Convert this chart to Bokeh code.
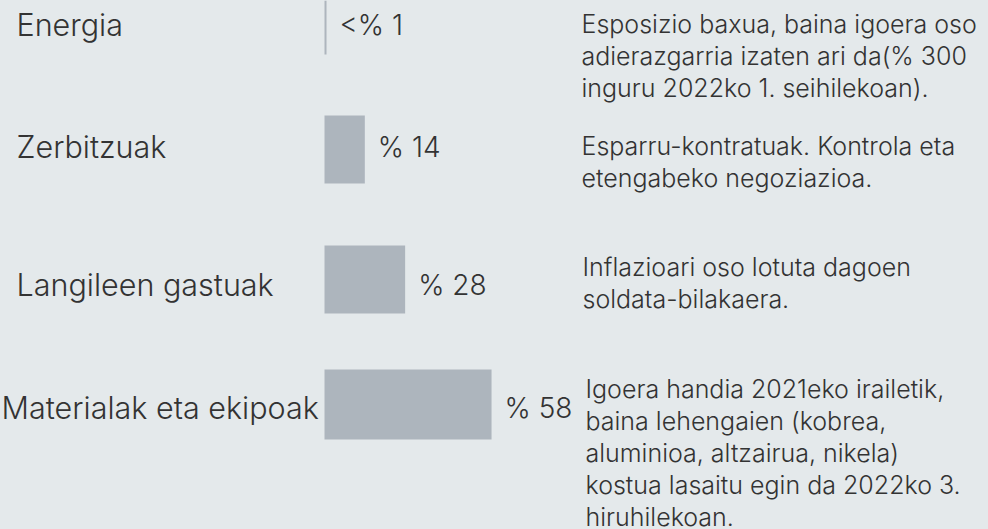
from bokeh.plotting import figure
from bokeh.models import Range1d, ColumnDataSource
from bokeh.embed import file_html
from bokeh.resources import INLINE
from bokeh.core.properties import value

# ---------------- data ----------------
categories = ["Energia", "Zerbitzuak", "Langileen gastuak", "Materialak eta ekipoak"]
shares = [0.7, 14, 28, 58]          # share of cost, percent ("<1" for energy)
share_labels = ["<% 1", "% 14", "% 28", "% 58"]
notes = [
    ["Esposizio baxua, baina igoera oso",
     "adierazgarria izaten ari da(% 300",
     "inguru 2022ko 1. seihilekoan)."],
    ["Esparru-kontratuak. Kontrola eta",
     "etengabeko negoziazioa."],
    ["Inflazioari oso lotuta dagoen",
     "soldata-bilakaera."],
    ["Igoera handia 2021eko irailetik,",
     "baina lehengaien (kobrea,",
     "aluminioa, altzairua, nikela)",
     "kostua lasaitu egin da 2022ko 3.",
     "hiruhilekoan."],
]

# ---------------- layout / style ----------------
W, H = 988, 529
BG = "#e4e9eb"
BAR = "#adb5bd"
INK = "#333333"
FONT = "Inter Light, Inter"
BAR_LEFT = 324
PX_PER_PCT = 2.88
row_mid = [20, 149, 279, 404]
bar_h = [68, 68, 68, 70]
baseline = [24, 146, 284, 407]
label_x = [16, 16, 16, 1]
PCT_GAP = 13
note_x = [581, 581, 582, 585]
note_first_baseline = [23, 145, 266, 388]
NOTE_GAP = 32.2

p = figure(width=W, height=H, output_backend="svg", toolbar_location=None,
           x_range=Range1d(0, W), y_range=Range1d(H, 0),
           x_axis_type=None, y_axis_type=None, min_border=0,
           background_fill_color=BG, border_fill_color=BG,
           outline_line_color=None)
p.grid.visible = False

rights = [BAR_LEFT + s * PX_PER_PCT for s in shares]
bars = ColumnDataSource(dict(y=row_mid, left=[BAR_LEFT] * 4, right=rights, h=bar_h))
p.hbar(y="y", left="left", right="right", height="h", source=bars,
       fill_color=BAR, line_color=None)

cats = ColumnDataSource(dict(x=label_x, y=baseline, t=categories))
p.text(x="x", y="y", text="t", source=cats, text_font=value(FONT),
       text_font_size="30.5px", text_color=INK, text_baseline="alphabetic",
       text_align="left")

pcts = ColumnDataSource(dict(x=[r + PCT_GAP for r in rights], y=baseline, t=share_labels))
p.text(x="x", y="y", text="t", source=pcts, text_font=value(FONT),
       text_font_size="28px", text_color=INK, text_baseline="alphabetic",
       text_align="left")

nx, ny, nt = [], [], []
for i, lines in enumerate(notes):
    for j, line in enumerate(lines):
        nx.append(note_x[i])
        ny.append(note_first_baseline[i] + j * NOTE_GAP)
        nt.append(line)
p.text(x=nx, y=ny, text=nt, text_font=value(FONT), text_font_size="25px",
       text_color=INK, text_baseline="alphabetic", text_align="left")

html = file_html(p, INLINE, title="Kostuen egitura")
html = html.replace("</head>",
                    "<style>html,body{margin:0;padding:0;background:%s;overflow:hidden}</style></head>" % BG, 1)
open("out.html", "w").write(html)
